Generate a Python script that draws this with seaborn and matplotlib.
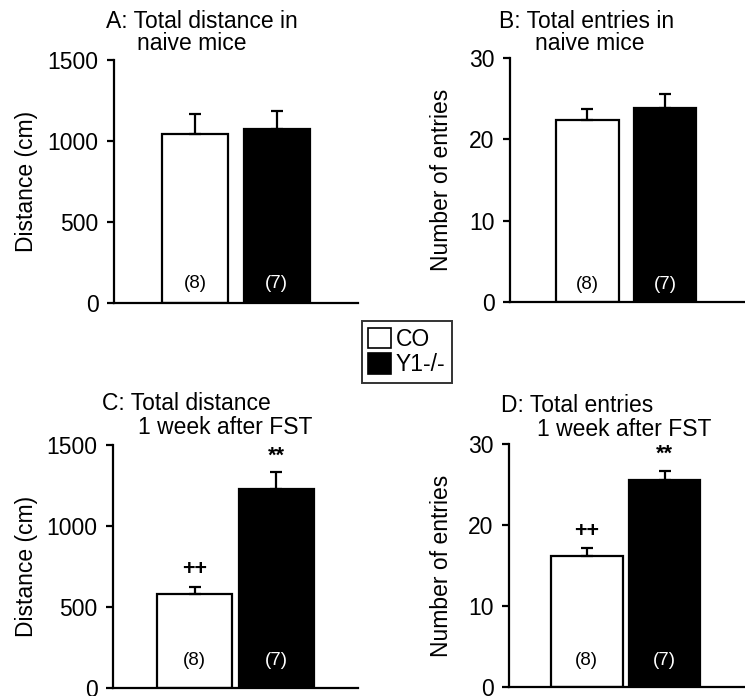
import matplotlib
matplotlib.use("Agg")
import matplotlib.pyplot as plt
import seaborn as sns
import pandas as pd
from matplotlib.patches import Patch

sns.set_theme(style="white")
plt.rcParams['font.family'] = ['Liberation Sans', 'DejaVu Sans']
plt.rcParams['text.color'] = 'black'
plt.rcParams['axes.labelcolor'] = 'black'
plt.rcParams['ytick.color'] = 'black'

groups = ["CO", "Y1-/-"]
n_labels = ["(8)", "(7)"]

dist_naive = [1045, 1072]
dist_naive_sem = [120, 115]
entries_naive = [22.4, 23.8]
entries_naive_sem = [1.3, 1.8]
dist_fst = [580, 1226]
dist_fst_sem = [41, 107]
entries_fst = [16.2, 25.5]
entries_fst_sem = [0.9, 1.2]

ylabels = ["Distance (cm)", "Number of entries", "Distance (cm)", "Number of entries"]
titles = [("A: Total distance in", "naive mice"),
          ("B: Total entries in", "naive mice"),
          ("C: Total distance", "1 week after FST"),
          ("D: Total entries", "1 week after FST")]
ymaxes = [1500, 30, 1500, 30]
yticks = [[0, 500, 1000, 1500], [0, 10, 20, 30], [0, 500, 1000, 1500], [0, 10, 20, 30]]
marks_co = ["", "", "++", "++"]
marks_y1 = ["", "", "**", "**"]

W, H = 745, 696
fig = plt.figure(figsize=(W / 100, H / 100), dpi=100)

# axes rects in pixels: left, right, top, bottom
rects = [(114, 358, 60, 303), (510, 744, 58, 302), (113, 358, 445, 688), (509, 744, 444, 687)]
widths = [0.81, 0.81, 0.92, 0.92]
nfrac = [0.08, 0.07, 0.115, 0.11]
title_pos = [((106, 21), (137, 44)), ((499, 21), (535, 44)),
             ((102, 404), (138, 428)), ((501, 406), (537, 430))]
ylab_x = [27, 442, 27, 442]

data = [(dist_naive, dist_naive_sem), (entries_naive, entries_naive_sem),
        (dist_fst, dist_fst_sem), (entries_fst, entries_fst_sem)]

palette = {"CO": "white", "Y1-/-": "black"}

for i in range(4):
    l, r, t, b = rects[i]
    ax = fig.add_axes([l / W, 1 - b / H, (r - l) / W, (b - t) / H])
    vals, sems = data[i]
    df = pd.DataFrame({"group": groups, "value": vals})
    sns.barplot(data=df, x="group", y="value", hue="group", palette=palette,
                order=groups, hue_order=groups, dodge=False, legend=False,
                edgecolor="black", linewidth=1.6, width=widths[i], ax=ax,
                errorbar=None)
    ax.errorbar([0, 1], vals, yerr=[[0, 0], sems], fmt="none", ecolor="black",
                elinewidth=1.6, capsize=4.5, capthick=1.6, zorder=1)
    ax.set_xlim(-1, 2.0 + (0 if i in (0, 2) else 0.02))
    ax.set_ylim(0, ymaxes[i])
    ax.set_yticks(yticks[i])
    ax.set_xticks([])
    ax.set_xlabel("")
    ax.set_ylabel(ylabels[i], fontsize=16.5, color="black")
    ax.yaxis.label.set_va("center")
    ax.yaxis.set_label_coords((ylab_x[i] - l) / (r - l), 0.5)
    for s in ["top", "right"]:
        ax.spines[s].set_visible(False)
    for s in ["left", "bottom"]:
        ax.spines[s].set_linewidth(1.6)
        ax.spines[s].set_color("black")
    ax.tick_params(axis="y", direction="out", length=5, width=1.6, pad=6,
                   labelsize=16.5, left=True, colors="black")
    ax.set_facecolor("none")
    for j, c in enumerate(["black", "white"]):
        ax.text(j, nfrac[i], n_labels[j], transform=ax.get_xaxis_transform(),
                ha="center", va="center", fontsize=13.5, color=c)
    if marks_co[i]:
        ax.annotate(marks_co[i], (0, vals[0] + sems[0]), xytext=(0, 5),
                    textcoords="offset points", ha="center", va="bottom",
                    fontsize=15.5, fontweight="bold", color="black")
        ax.annotate(marks_y1[i], (1, vals[1] + sems[1]), xytext=(0, 4),
                    textcoords="offset points", ha="center", va="bottom",
                    fontsize=15.5, fontweight="bold", color="black")
    (x1, y1), (x2, y2) = title_pos[i]
    fig.text(x1 / W, 1 - y1 / H, titles[i][0], ha="left", va="center",
             fontsize=16.5, color="black")
    fig.text(x2 / W, 1 - y2 / H, titles[i][1], ha="left", va="center",
             fontsize=16.5, color="black")

handles = [Patch(facecolor="white", edgecolor="black", linewidth=1.2),
           Patch(facecolor="black", edgecolor="black", linewidth=1.2)]
leg = fig.legend(handles, groups, loc="center", bbox_to_anchor=(407 / W, 1 - 352 / H),
                 fontsize=16.5, frameon=True, fancybox=False, edgecolor="black",
                 handlelength=1.0, handleheight=1.0, handletextpad=0.2,
                 labelspacing=0.1, borderpad=0.3, borderaxespad=0,
                 labelcolor="black")
leg.get_frame().set_linewidth(1.4)

fig.savefig("out.png", dpi=100)
